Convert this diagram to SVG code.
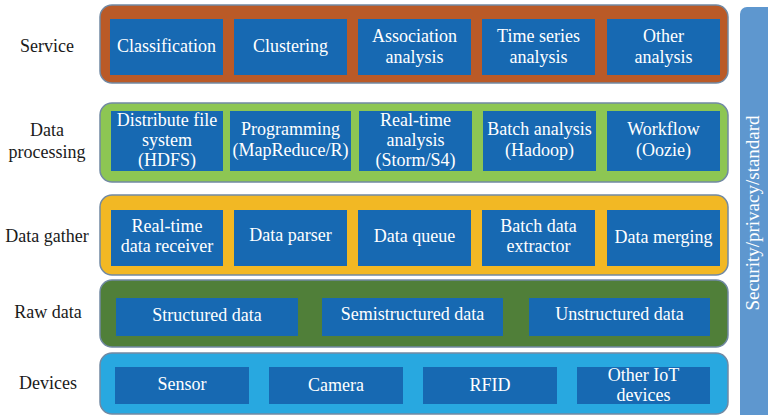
<svg xmlns="http://www.w3.org/2000/svg" width="768" height="415" viewBox="0 0 768 415">
  <style>
    .band { stroke: #7189a3; stroke-width: 1.5; }
    .box { fill: #1769b2; }
    text { font-family: 'Liberation Serif', 'DejaVu Serif', 'Times New Roman', serif; font-size: 18px; text-anchor: middle; }
    .bt { fill: #ffffff; }
    .lbl { fill: #1a1a1a; }
    .side { font-size: 19px; }
  </style>
  <rect width="768" height="415" fill="#ffffff"/>

  <!-- Cross-cutting bar on the right -->
  <g id="security">
    <rect x="740" y="7" width="40" height="420" rx="7" fill="#5e97cf"/>
    <text class="bt side" transform="translate(759,213) rotate(-90)">Security/privacy/standard</text>
  </g>

  <!-- Service layer -->
  <g id="service">
    <text class="lbl" x="47" y="52">Service</text>
    <rect class="band" x="100" y="5" width="628" height="78" rx="12" fill="#ba5a27"/>
    <rect class="box" x="110" y="19" width="113" height="56"/>
    <text class="bt" x="166.5" y="52">Classification</text>
    <rect class="box" x="234" y="19" width="113" height="56"/>
    <text class="bt" x="290.5" y="52">Clustering</text>
    <rect class="box" x="358" y="19" width="113" height="56"/>
    <text class="bt" x="414.5" y="42">Association</text>
    <text class="bt" x="414.5" y="63">analysis</text>
    <rect class="box" x="482" y="19" width="113" height="56"/>
    <text class="bt" x="538.5" y="42">Time series</text>
    <text class="bt" x="538.5" y="63">analysis</text>
    <rect class="box" x="607" y="19" width="113" height="56"/>
    <text class="bt" x="663.5" y="42">Other</text>
    <text class="bt" x="663.5" y="63">analysis</text>
  </g>

  <!-- Data processing layer -->
  <g id="data-processing">
    <text class="lbl" x="47" y="136">Data</text>
    <text class="lbl" x="47" y="158">processing</text>
    <rect class="band" x="100" y="103" width="628" height="79" rx="12" fill="#8dc653"/>
    <rect class="box" x="111" y="111" width="112" height="60"/>
    <text class="bt" x="167" y="126">Distribute file</text>
    <text class="bt" x="167" y="146">system</text>
    <text class="bt" x="167" y="166">(HDFS)</text>
    <rect class="box" x="230" y="111" width="121" height="60"/>
    <text class="bt" x="290.5" y="135">Programming</text>
    <text class="bt" x="290.5" y="156">(MapReduce/R)</text>
    <rect class="box" x="359" y="111" width="113" height="60"/>
    <text class="bt" x="415.5" y="126">Real-time</text>
    <text class="bt" x="415.5" y="146">analysis</text>
    <text class="bt" x="415.5" y="166">(Storm/S4)</text>
    <rect class="box" x="483" y="111" width="113" height="60"/>
    <text class="bt" x="539.5" y="135">Batch analysis</text>
    <text class="bt" x="539.5" y="156">(Hadoop)</text>
    <rect class="box" x="607" y="111" width="113" height="60"/>
    <text class="bt" x="663.5" y="135">Workflow</text>
    <text class="bt" x="663.5" y="156">(Oozie)</text>
  </g>

  <!-- Data gather layer -->
  <g id="data-gather">
    <text class="lbl" x="47" y="242">Data gather</text>
    <rect class="band" x="100" y="195" width="628" height="80" rx="12" fill="#f2b824"/>
    <rect class="box" x="111" y="210" width="112" height="56"/>
    <text class="bt" x="167" y="232">Real-time</text>
    <text class="bt" x="167" y="252">data receiver</text>
    <rect class="box" x="234" y="210" width="113" height="56"/>
    <text class="bt" x="290.5" y="241">Data parser</text>
    <rect class="box" x="358" y="210" width="113" height="56"/>
    <text class="bt" x="414.5" y="242">Data queue</text>
    <rect class="box" x="482" y="210" width="113" height="56"/>
    <text class="bt" x="538.5" y="232">Batch data</text>
    <text class="bt" x="538.5" y="252">extractor</text>
    <rect class="box" x="607" y="210" width="113" height="56"/>
    <text class="bt" x="663.5" y="243">Data merging</text>
  </g>

  <!-- Raw data layer -->
  <g id="raw-data">
    <text class="lbl" x="48" y="318">Raw data</text>
    <rect class="band" x="100" y="280" width="628" height="67" rx="12" fill="#507f39"/>
    <rect class="box" x="116" y="298" width="182" height="38"/>
    <text class="bt" x="207" y="321">Structured data</text>
    <rect class="box" x="322" y="298" width="181" height="38"/>
    <text class="bt" x="412.5" y="320">Semistructured data</text>
    <rect class="box" x="529" y="298" width="181" height="38"/>
    <text class="bt" x="619.5" y="320">Unstructured data</text>
  </g>

  <!-- Devices layer -->
  <g id="devices">
    <text class="lbl" x="48" y="389">Devices</text>
    <rect class="band" x="100" y="353" width="628" height="61" rx="12" fill="#28a8e0"/>
    <rect class="box" x="115" y="367" width="134" height="37"/>
    <text class="bt" x="182" y="390">Sensor</text>
    <rect class="box" x="269" y="367" width="134" height="37"/>
    <text class="bt" x="336" y="391">Camera</text>
    <rect class="box" x="423" y="367" width="134" height="37"/>
    <text class="bt" x="490" y="391">RFID</text>
    <rect class="box" x="577" y="367" width="133" height="37"/>
    <text class="bt" x="643.5" y="381">Other IoT</text>
    <text class="bt" x="643.5" y="401">devices</text>
  </g>

  <!-- No connectors in this layered diagram -->
  <g id="connectors"/>
</svg>
